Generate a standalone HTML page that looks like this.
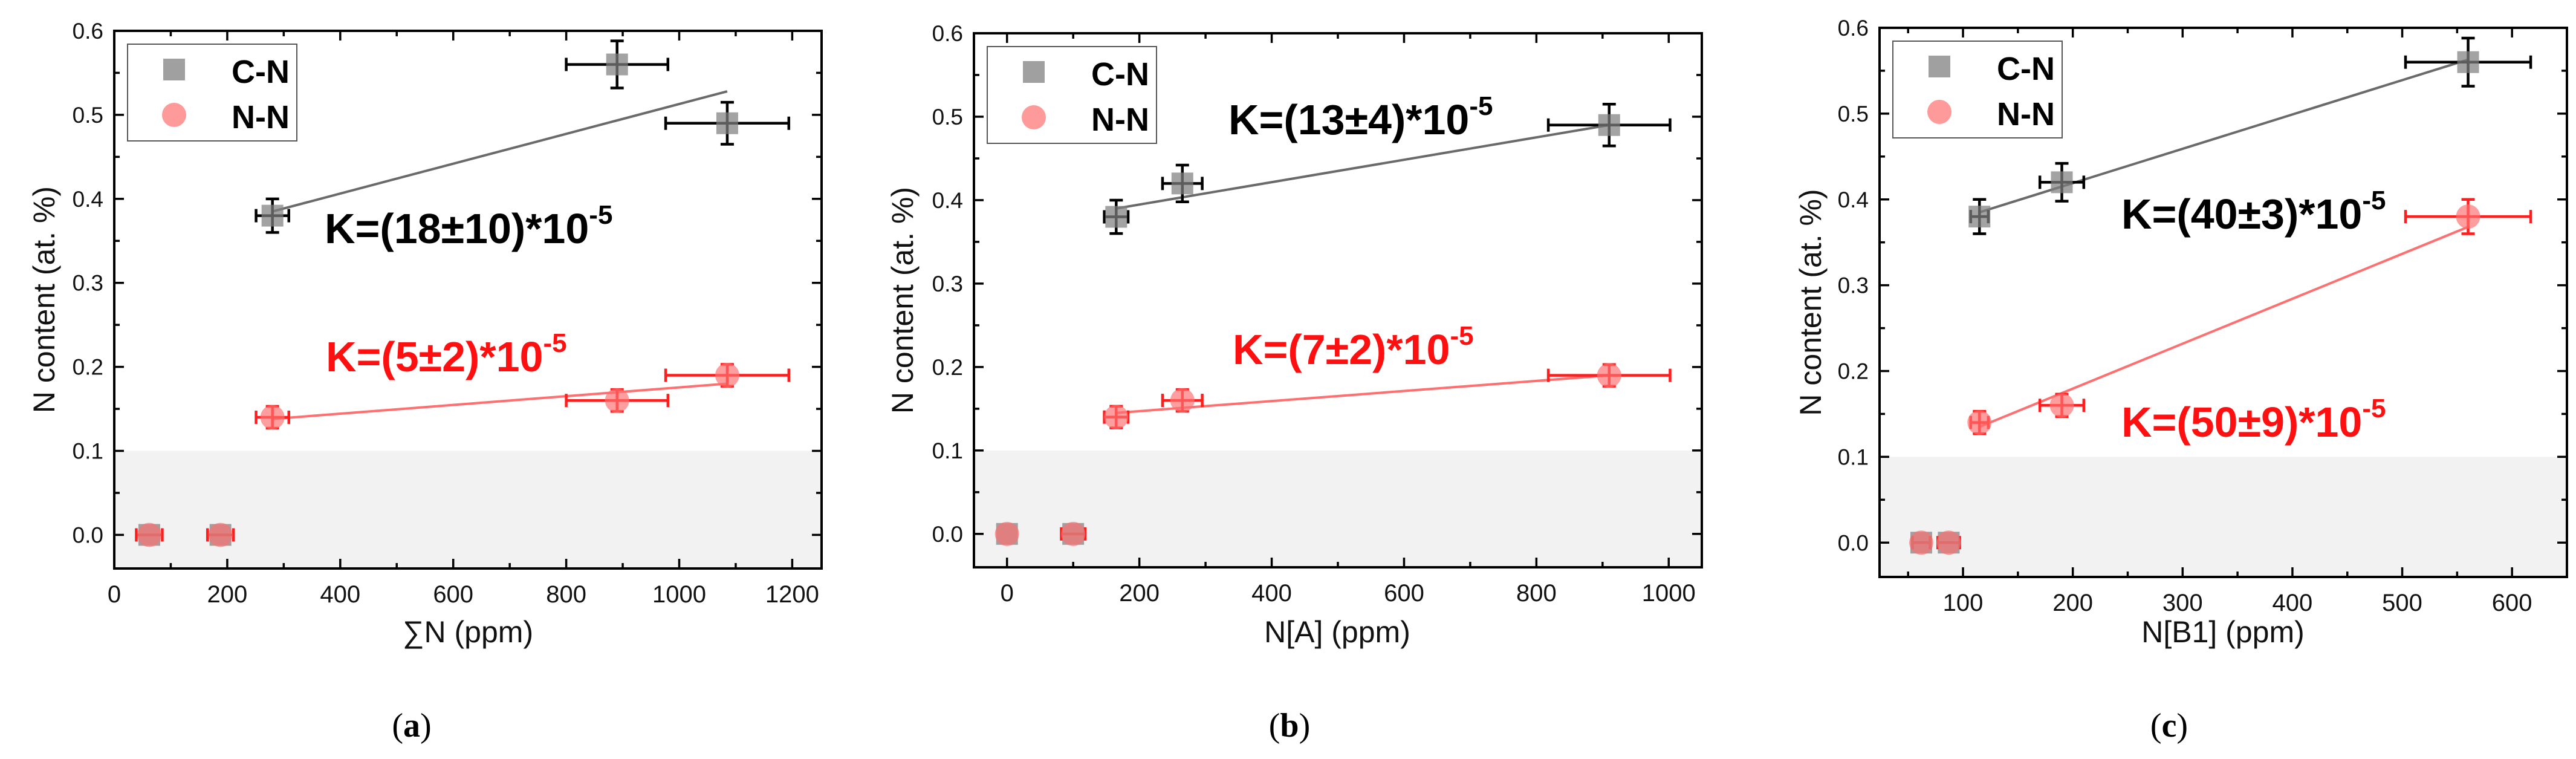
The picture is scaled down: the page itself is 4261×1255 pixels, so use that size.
<!DOCTYPE html>
<html><head><meta charset="utf-8">
<style>
html,body{margin:0;padding:0;background:#fff;}
svg{display:block;}
text{font-family:"Liberation Sans",Arial,sans-serif;}
</style></head>
<body>
<svg id="fig" width="4261" height="1255" viewBox="0 0 4261 1255" xmlns="http://www.w3.org/2000/svg"></svg>
<script>
// ---- Panel (a) data ----
const aCnX = [280, 890, 1085];
const aCnY = [0.38, 0.56, 0.49];
const aCnXerr = [29, 90, 109];
const aCnYerr = [0.02, 0.028, 0.025];
const aNnX = [280, 890, 1085];
const aNnY = [0.14, 0.16, 0.19];
const aNnXerr = [29, 90, 109];
const aNnYerr = [0.013, 0.013, 0.013];
const aZeroX = [62, 188];
const aZeroY = [0, 0];
const aZeroXerr = [23, 23];
const aFitCnX = [280, 1085];
const aFitCnY = [0.385, 0.528];
const aFitNnX = [280, 1085];
const aFitNnY = [0.138, 0.18];
const aXTicks = [0, 200, 400, 600, 800, 1000, 1200];
// ---- Panel (b) data ----
const bCnX = [165, 265, 910];
const bCnY = [0.38, 0.42, 0.49];
const bCnXerr = [18, 30, 92];
const bCnYerr = [0.02, 0.022, 0.025];
const bNnX = [165, 265, 910];
const bNnY = [0.14, 0.16, 0.19];
const bNnXerr = [18, 30, 92];
const bNnYerr = [0.013, 0.013, 0.013];
const bZeroX = [0, 100];
const bZeroY = [0, 0];
const bZeroXerr = [0, 18];
const bFitCnX = [165, 910];
const bFitCnY = [0.39, 0.49];
const bFitNnX = [165, 910];
const bFitNnY = [0.145, 0.19];
const bXTicks = [0, 200, 400, 600, 800, 1000];
// ---- Panel (c) data ----
const cCnX = [115, 190, 560];
const cCnY = [0.38, 0.42, 0.56];
const cCnXerr = [8, 20, 57];
const cCnYerr = [0.02, 0.022, 0.028];
const cNnX = [115, 190, 560];
const cNnY = [0.14, 0.16, 0.38];
const cNnXerr = [8, 20, 57];
const cNnYerr = [0.013, 0.013, 0.02];
const cZeroX = [62, 87];
const cZeroY = [0, 0];
const cZeroXerr = [8, 10];
const cFitCnX = [115, 560];
const cFitCnY = [0.385, 0.563];
const cFitNnX = [115, 560];
const cFitNnY = [0.135, 0.368];
const cXTicks = [100, 200, 300, 400, 500, 600];
// shared
const yTicks = [0.0, 0.1, 0.2, 0.3, 0.4, 0.5, 0.6];
const yTickLabels = ["0.0", "0.1", "0.2", "0.3", "0.4", "0.5", "0.6"];
const kLabelsCn = ["18\u00b110", "13\u00b14", "40\u00b13"];
const kLabelsNn = ["5\u00b12", "7\u00b12", "50\u00b19"];
const xTitles = ["\u2211N (ppm)", "N[A] (ppm)", "N[B1] (ppm)"];
const captions = ["a", "b", "c"];

const NS = "http://www.w3.org/2000/svg";
const svg = document.getElementById("fig");
function mk(tag, attrs, parent) {
  const e = document.createElementNS(NS, tag);
  for (const k in attrs) e.setAttribute(k, attrs[k]);
  (parent || svg).appendChild(e);
  return e;
}

const panels = [
  {id:"a", L:189, R:1359, T:51, B:940, xmin:0, xmax:1252, ymin:-0.04, ymax:0.6, xTicks:aXTicks, minorStep:100,
   cnX:aCnX, cnY:aCnY, cnXe:aCnXerr, cnYe:aCnYerr, nnX:aNnX, nnY:aNnY, nnXe:aNnXerr, nnYe:aNnYerr,
   zX:aZeroX, zY:aZeroY, zXe:aZeroXerr, fCX:aFitCnX, fCY:aFitCnY, fNX:aFitNnX, fNY:aFitNnY,
   kCn:[537,376], kNn:[539,588], ytx:73, xtx:774, cap:681},
  {id:"b", L:1611, R:2815, T:55, B:938, xmin:-50, xmax:1050, ymin:-0.04, ymax:0.6, xTicks:bXTicks, minorStep:100,
   cnX:bCnX, cnY:bCnY, cnXe:bCnXerr, cnYe:bCnYerr, nnX:bNnX, nnY:bNnY, nnXe:bNnXerr, nnYe:bNnYerr,
   zX:bZeroX, zY:bZeroY, zXe:bZeroXerr, fCX:bFitCnX, fCY:bFitCnY, fNX:bFitNnX, fNY:bFitNnY,
   kCn:[2032,196], kNn:[2039,576], ytx:1493, xtx:2212, cap:2133},
  {id:"c", L:3109, R:4246, T:46, B:954, xmin:24, xmax:650, ymin:-0.04, ymax:0.6, xTicks:cXTicks, minorStep:50,
   cnX:cCnX, cnY:cCnY, cnXe:cCnXerr, cnYe:cCnYerr, nnX:cNnX, nnY:cNnY, nnXe:cNnXerr, nnYe:cNnYerr,
   zX:cZeroX, zY:cZeroY, zXe:cZeroXerr, fCX:cFitCnX, fCY:cFitCnY, fNX:cFitNnX, fNY:cFitNnY,
   kCn:[3509,352], kNn:[3509,696], ytx:2995, xtx:3677, cap:3588}
];

panels.forEach((p, pi) => {
  const g = mk("g", {});
  
  
  const X = v => p.L + (v - p.xmin) / (p.xmax - p.xmin) * (p.R - p.L);
  const Y = v => p.B - (v - p.ymin) / (p.ymax - p.ymin) * (p.B - p.T);

  const sh = mk("rect", {x:p.L, y:Y(0.1), width:p.R-p.L, height:p.B-Y(0.1), fill:"#f2f2f2"}, g);
  
  

  const tg = mk("g", {stroke:"#000", "stroke-width":3.5}, g);
  
  
  for (let v = Math.ceil(p.xmin / p.minorStep) * p.minorStep; v <= p.xmax; v += p.minorStep) {
    const major = p.xTicks.indexOf(v) >= 0;
    const len = major ? 16 : 9;
    mk("line", {x1:X(v), x2:X(v), y1:p.B, y2:p.B-len}, tg);
    mk("line", {x1:X(v), x2:X(v), y1:p.T, y2:p.T+len}, tg);
  }
  for (let i = -1; i <= 12; i++) {
    const v = i * 0.05;
    if (v < p.ymin - 1e-9 || v > p.ymax + 1e-9) continue;
    const len = (i % 2 === 0) ? 16 : 9;
    mk("line", {x1:p.L, x2:p.L+len, y1:Y(v), y2:Y(v)}, tg);
    mk("line", {x1:p.R, x2:p.R-len, y1:Y(v), y2:Y(v)}, tg);
  }
  p.xTicks.forEach(v => {
    const t = mk("text", {x:X(v), y:p.B+56, "font-size":40, "text-anchor":"middle", fill:"#111"}, g);
    t.textContent = String(v);
    
    
  });
  yTicks.forEach((v, i) => {
    const t = mk("text", {x:p.L-18, y:Y(v)+13, "font-size":37, "text-anchor":"end", fill:"#111"}, g);
    t.textContent = yTickLabels[i];
    
    
  });
  const xt = mk("text", {x:p.xtx, y:1062, "font-size":50, "text-anchor":"middle", fill:"#111"}, g);
  xt.textContent = xTitles[pi];
  
  
  const cy = (p.T + p.B) / 2;
  const yt = mk("text", {x:p.ytx, y:cy, "font-size":50, "text-anchor":"middle", fill:"#111",
    transform:"rotate(-90 " + p.ytx + " " + cy + ")", dy:17}, g);
  yt.textContent = "N content (at. %)";
  
  

  const fc = mk("line", {x1:X(p.fCX[0]), y1:Y(p.fCY[0]), x2:X(p.fCX[1]), y2:Y(p.fCY[1]), stroke:"#6a6a6a", "stroke-width":4}, g);
  
  
  const fn = mk("line", {x1:X(p.fNX[0]), y1:Y(p.fNY[0]), x2:X(p.fNX[1]), y2:Y(p.fNY[1]), stroke:"#ff6f6f", "stroke-width":4}, g);
  
  

  function errbar(x, y, xe, ye, color, name) {
    const eg = mk("g", {stroke:color, "stroke-width":4.5}, g);
    
    
    if (xe > 0) {
      mk("line", {x1:X(x-xe), x2:X(x+xe), y1:Y(y), y2:Y(y)}, eg);
      mk("line", {x1:X(x-xe), x2:X(x-xe), y1:Y(y)-11, y2:Y(y)+11}, eg);
      mk("line", {x1:X(x+xe), x2:X(x+xe), y1:Y(y)-11, y2:Y(y)+11}, eg);
    }
    if (ye > 0) {
      mk("line", {x1:X(x), x2:X(x), y1:Y(y-ye), y2:Y(y+ye)}, eg);
      mk("line", {x1:X(x)-11, x2:X(x)+11, y1:Y(y-ye), y2:Y(y-ye)}, eg);
      mk("line", {x1:X(x)-11, x2:X(x)+11, y1:Y(y+ye), y2:Y(y+ye)}, eg);
    }
  }
  p.cnX.forEach((x, i) => errbar(x, p.cnY[i], p.cnXe[i], p.cnYe[i], "#000", "error-bar-c-n"));
  p.nnX.forEach((x, i) => errbar(x, p.nnY[i], p.nnXe[i], p.nnYe[i], "#ff1e1e", "error-bar-n-n"));
  p.zX.forEach((x, i) => errbar(x, p.zY[i], p.zXe[i], 0, "#ff1e1e", "error-bar-zero"));

  function sq(x, y, name) {
    const r = mk("rect", {x:X(x)-18, y:Y(y)-18, width:36, height:36, fill:"#808080", "fill-opacity":0.72}, g);
    
    
  }
  function ci(x, y, name) {
    const c = mk("circle", {cx:X(x), cy:Y(y), r:20, fill:"#ff7070", "fill-opacity":0.68}, g);
    
    
  }
  p.cnX.forEach((x, i) => sq(x, p.cnY[i], "point-c-n"));
  p.zX.forEach((x, i) => sq(x, p.zY[i], "point-c-n-zero"));
  p.nnX.forEach((x, i) => ci(x, p.nnY[i], "point-n-n"));
  p.zX.forEach((x, i) => ci(x, p.zY[i], "point-n-n-zero"));

  const fr = mk("rect", {x:p.L, y:p.T, width:p.R-p.L, height:p.B-p.T, fill:"none", stroke:"#000", "stroke-width":4}, g);
  
  

  const lg = mk("g", {}, g);
  
  
  const lx = p.L + 22, ly = p.T + 22;
  mk("rect", {x:lx, y:ly, width:280, height:160, fill:"#fff", stroke:"#555", "stroke-width":2}, lg);
  const l1 = mk("rect", {x:lx+59, y:ly+24, width:36, height:36, fill:"#a0a0a0"}, lg);
  
  
  const l2 = mk("circle", {cx:lx+77, cy:ly+117, r:20, fill:"#ff9a9a"}, lg);
  
  
  const t1 = mk("text", {x:lx+268, y:ly+64, "font-size":54, "font-weight":"bold", "text-anchor":"end", fill:"#000"}, lg);
  t1.textContent = "C-N";
  
  
  const t2 = mk("text", {x:lx+268, y:ly+139, "font-size":54, "font-weight":"bold", "text-anchor":"end", fill:"#000"}, lg);
  t2.textContent = "N-N";
  
  

  function klabel(pos, val, color, name) {
    const t = mk("text", {x:pos[0], y:pos[1]+26, "font-size":70, "font-weight":"bold", fill:color}, g);
    
    
    t.appendChild(document.createTextNode("K=(" + val + ")*10"));
    const s = mk("tspan", {"font-size":44, dy:-32}, t);
    s.textContent = "-5";
  }
  klabel(p.kCn, kLabelsCn[pi], "#000", "k-label-c-n");
  klabel(p.kNn, kLabelsNn[pi], "#ff1010", "k-label-n-n");

  const cp = mk("text", {x:p.cap, y:1218, "font-size":56, "text-anchor":"middle", fill:"#000",
    style:"font-family:'Liberation Serif','Times New Roman',serif"}, g);
  
  
  cp.appendChild(document.createTextNode("("));
  const cb = mk("tspan", {"font-weight":"bold"}, cp);
  cb.textContent = captions[pi];
  cp.appendChild(document.createTextNode(")"));
});
</script>
</body></html>
